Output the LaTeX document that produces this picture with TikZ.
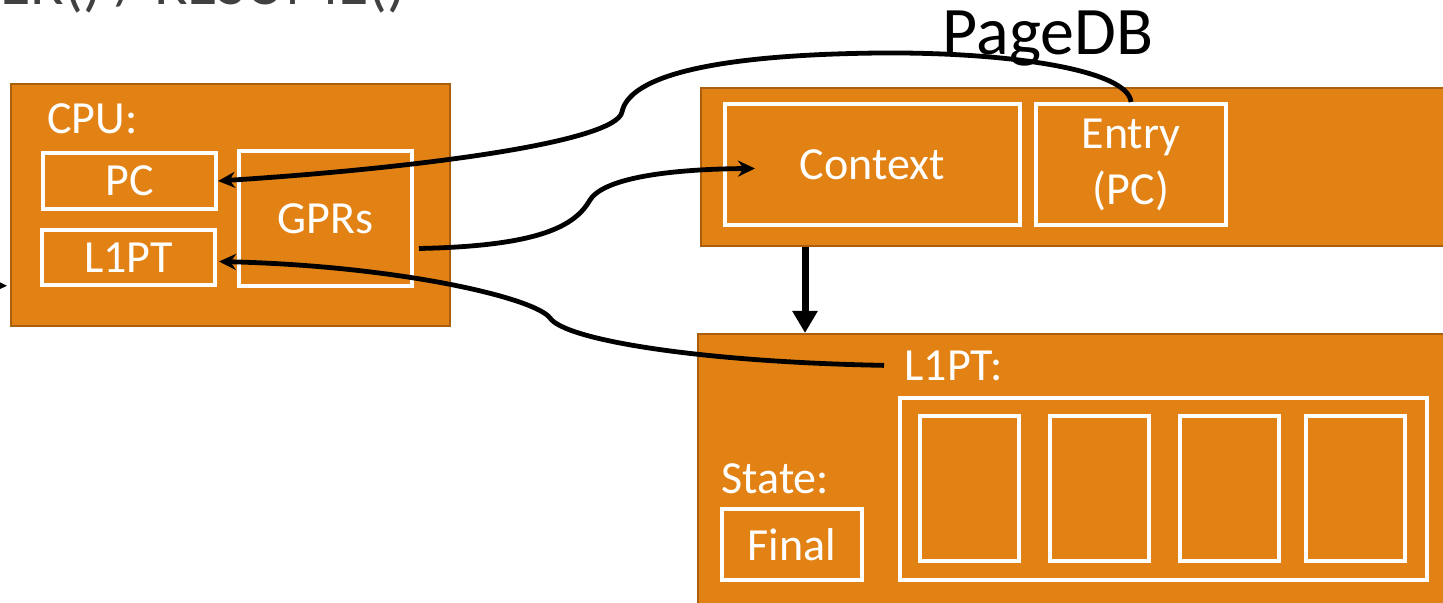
\documentclass[tikz,border=0pt]{standalone}
\usepackage{fontspec}
\setmainfont{Carlito}
\usepackage{tikz}
\usetikzlibrary{arrows.meta, positioning}
\definecolor{hvorange}{RGB}{227,130,20}
\definecolor{hvedge}{RGB}{170,95,15}
\definecolor{hvgrey}{RGB}{64,64,64}
\tikzset{
  panel/.style={rectangle, draw=hvedge, fill=hvorange, line width=0.8pt,
    anchor=north west, inner sep=0pt},
  cell/.style={rectangle, draw=white, line width=2pt, text=white,
    align=center, inner sep=0pt, font=\fontsize{23}{28}\selectfont},
  txt/.style={inner sep=0pt, text=white, font=\fontsize{23}{28}\selectfont},
  conn/.style={-{Stealth[length=8.5pt, width=8pt]}, line width=2.4pt, color=black},
  droparrow/.style={-{Triangle[length=11pt, width=12pt]}, line width=3.5pt, color=black}
}

\begin{document}
\begin{tikzpicture}[x=0.5pt, y=-0.5pt]
  \useasboundingbox (0,0) rectangle (1443,603);
  \clip (0,0) rectangle (1443,603);

  % Call names, cut by the top edge
  \node[txt, anchor=base east, text=hvgrey, font=\fontsize{31}{36}\selectfont] (calls) at (407,5) {ENTER() / RESUME()};

  % CPU
  \node[panel, minimum width=219.5pt, minimum height=121pt] (cpu) at (10,83) {};
  \node[txt, anchor=base west] (cpulbl) at (47,134) {CPU:};
  \node[cell, minimum width=86.5pt, minimum height=28pt] (pc) at (129.5,181) {PC};
  \node[cell, minimum width=86.5pt, minimum height=27.5pt] (l1pt) at (128.5,257.5) {L1PT};
  \node[cell, minimum width=86.5pt, minimum height=67.5pt] (gprs) at (325.5,218.5) {GPRs};

  % PageDB entry
  \node[txt, anchor=base, text=black, font=\fontsize{34}{40}\selectfont] (pdbtitle) at (1048,55) {PageDB};
  \node[panel, minimum width=380pt, minimum height=79pt] (pagedb) at (700,87) {};
  \node[cell, minimum width=147.5pt, minimum height=60.5pt] (context) at (872.5,164.5) {Context};
  \node[cell, minimum width=95pt, minimum height=60.5pt] (entry) at (1131,164.5) {Entry\\(PC)};

  % Address space
  \node[panel, minimum width=380pt, minimum height=145pt] (state) at (697,333) {};
  \node[txt, anchor=base west] (l1ptlbl) at (904,380) {L1PT:};
  \node[txt, anchor=base west] (statelbl) at (721,493) {State:};
  \node[cell, minimum width=70pt, minimum height=35.5pt] (final) at (792,544.5) {Final};
  \node[cell, minimum width=263.5pt, minimum height=91pt] (arr) at (1163.5,489) {};
  \foreach \cx [count=\i] in {969.5, 1099, 1229.5, 1355.5}
    \node[cell, minimum width=49.5pt, minimum height=72.5pt] (slot\i) at (\cx,488.5) {};

  % Links
  \coordinate (offleft) at (-60,285);
  \draw[conn] (offleft) -- ([shift={(-3,81)}]cpu.west);
  \draw[conn] (entry.north) .. controls (1128,70) and (1010,52) .. (880,53)
    .. controls (690,55) and (628,82) .. (622,112)
    .. controls (616,142) and (420,168) .. (pc.east);
  \draw[conn] ([shift={(5,30)}]gprs.east) .. controls (540,246) and (575,226) .. (590,200)
    .. controls (605,176) and (680,169) .. ([shift={(32,4)}]context.west);
  \draw[conn] ([shift={(-20,0)}]l1ptlbl.west) .. controls (700,362) and (565,340) .. (550,318)
    .. controls (535,298) and (400,266) .. ([shift={(2,4)}]l1pt.east);
  \draw[droparrow] ([shift={(105,0)}]pagedb.south west) -- ([shift={(108,0)}]state.north west);
\end{tikzpicture}
\end{document}
